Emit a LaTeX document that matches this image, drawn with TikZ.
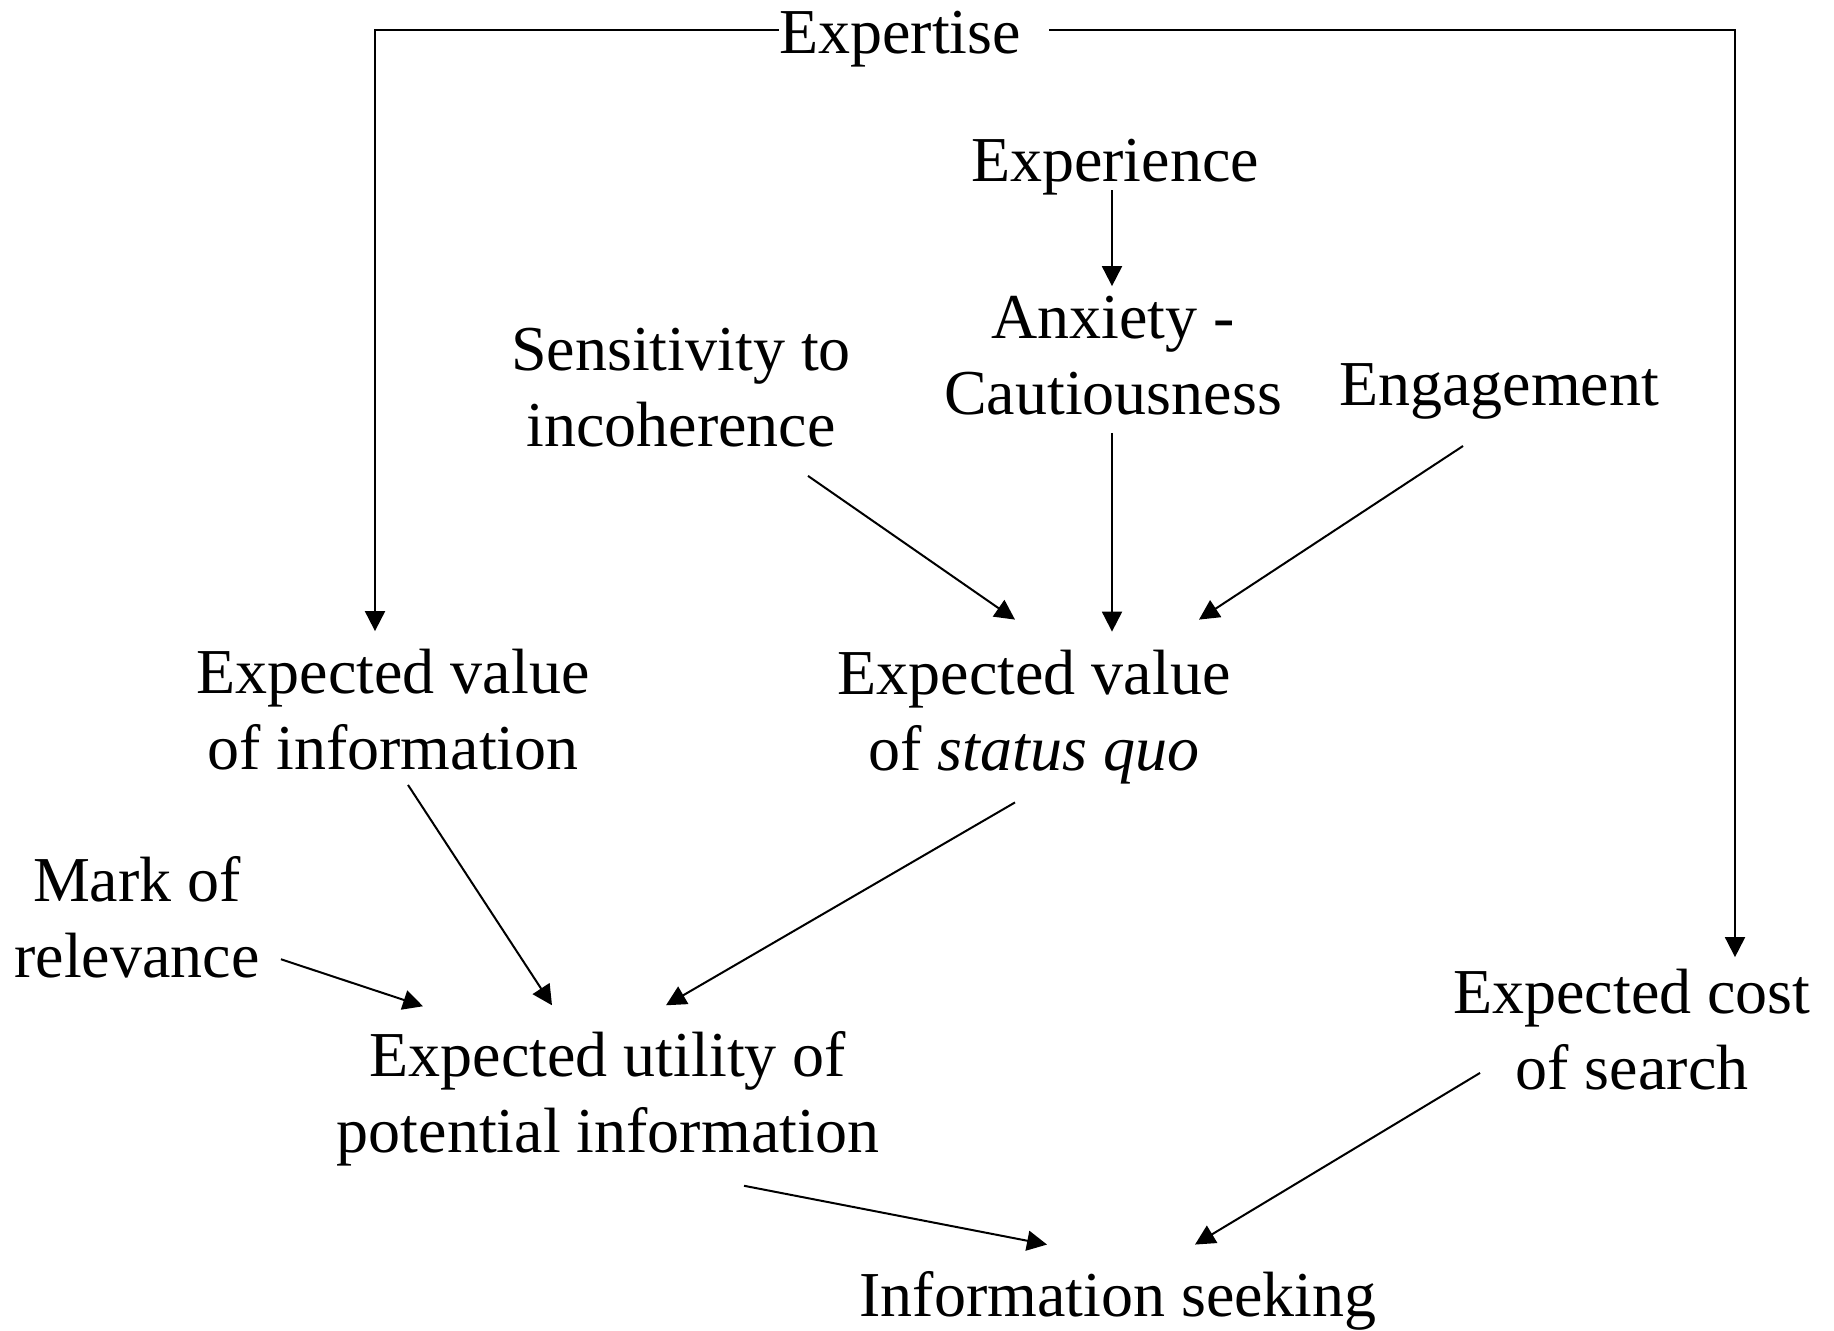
\documentclass[tikz,border=0pt]{standalone}
\usepackage{fontspec}
\setmainfont{Liberation Serif}
\usepackage{tikz}
\usetikzlibrary{
  arrows.meta,
  positioning,
  calc
}
\tikzset{
  ftext/.style={
    font=\fontsize{32}{38}\selectfont, align=center, inner sep=0pt
  },
  link/.style={-{Triangle[length=10pt, width=10pt]}, line width=1pt, black}
}

\begin{document}
\begin{tikzpicture}[x=0.5pt, y=-0.5pt]
  \useasboundingbox (0,0) rectangle (1834,1330);
  % factors
  \node[ftext, anchor=base] (exps) at (900,53) {Expertise};
  \node[ftext, anchor=base] (expc) at (1115,181) {Experience};
  \node[ftext] (anx) at (1113,356) {Anxiety -\\Cautiousness};
  \node[ftext] (sens) at (681,388) {Sensitivity to\\incoherence};
  \node[ftext, anchor=base] (eng) at (1499,405) {Engagement};
  \node[ftext] (evi) at (393,710) {Expected value\\of information};
  \node[ftext] (sq) at (1034,717) {Expected value\\of \textit{status quo}};
  \node[ftext] (mark) at (137,917) {Mark of\\relevance};
  \node[ftext] (cost) at (1632,1030) {Expected cost\\of search};
  \node[ftext] (util) at (608,1099) {Expected utility of\\potential information};
  \node[ftext, anchor=base] (seek) at (1118,1316) {Information seeking};

  % expertise bracket
  \coordinate (cL) at (375,30);
  \coordinate (cR) at (1735,30);
  \draw[link] (exps.west |- cL) -- (cL) -- ($(cL |- evi.north)+(0,-18)$);
  \draw[link] ($(exps.east |- cR)+(28,0)$) -- (cR) -- ($(cR |- cost.north)+(0,-12)$);

  % influences
  \draw[link] ($(anx.north |- expc.south)+(-1,-5)$) -- ($(anx.north)+(-1,-10)$);
  \draw[link] ($(anx.south)+(-1,17)$) -- ($(anx.south |- sq.north)+(-1,-18)$);
  \draw[link] ($(sens.south)+(127,28)$) -- ($(sq.north)+(-19,-30)$);
  \draw[link] ($(eng.base)+(-36,41)$) -- ($(sq.north)+(165,-30)$);
  \draw[link] ($(evi.south)+(15,14)$) -- ($(util.north)+(-56,-26)$);
  \draw[link] ($(mark.south east)+(21,-19)$) -- ($(util.north)+(-185,-25)$);
  \draw[link] ($(sq.south)+(-19,18)$) -- ($(util.north)+(58,-26)$);
  \draw[link] ($(util.south)+(136,19)$) -- ($(seek.north)+(-71,-26)$);
  \draw[link] ($(cost.south)+(-152,-18)$) -- ($(seek.north)+(77,-26)$);
\end{tikzpicture}
\end{document}
